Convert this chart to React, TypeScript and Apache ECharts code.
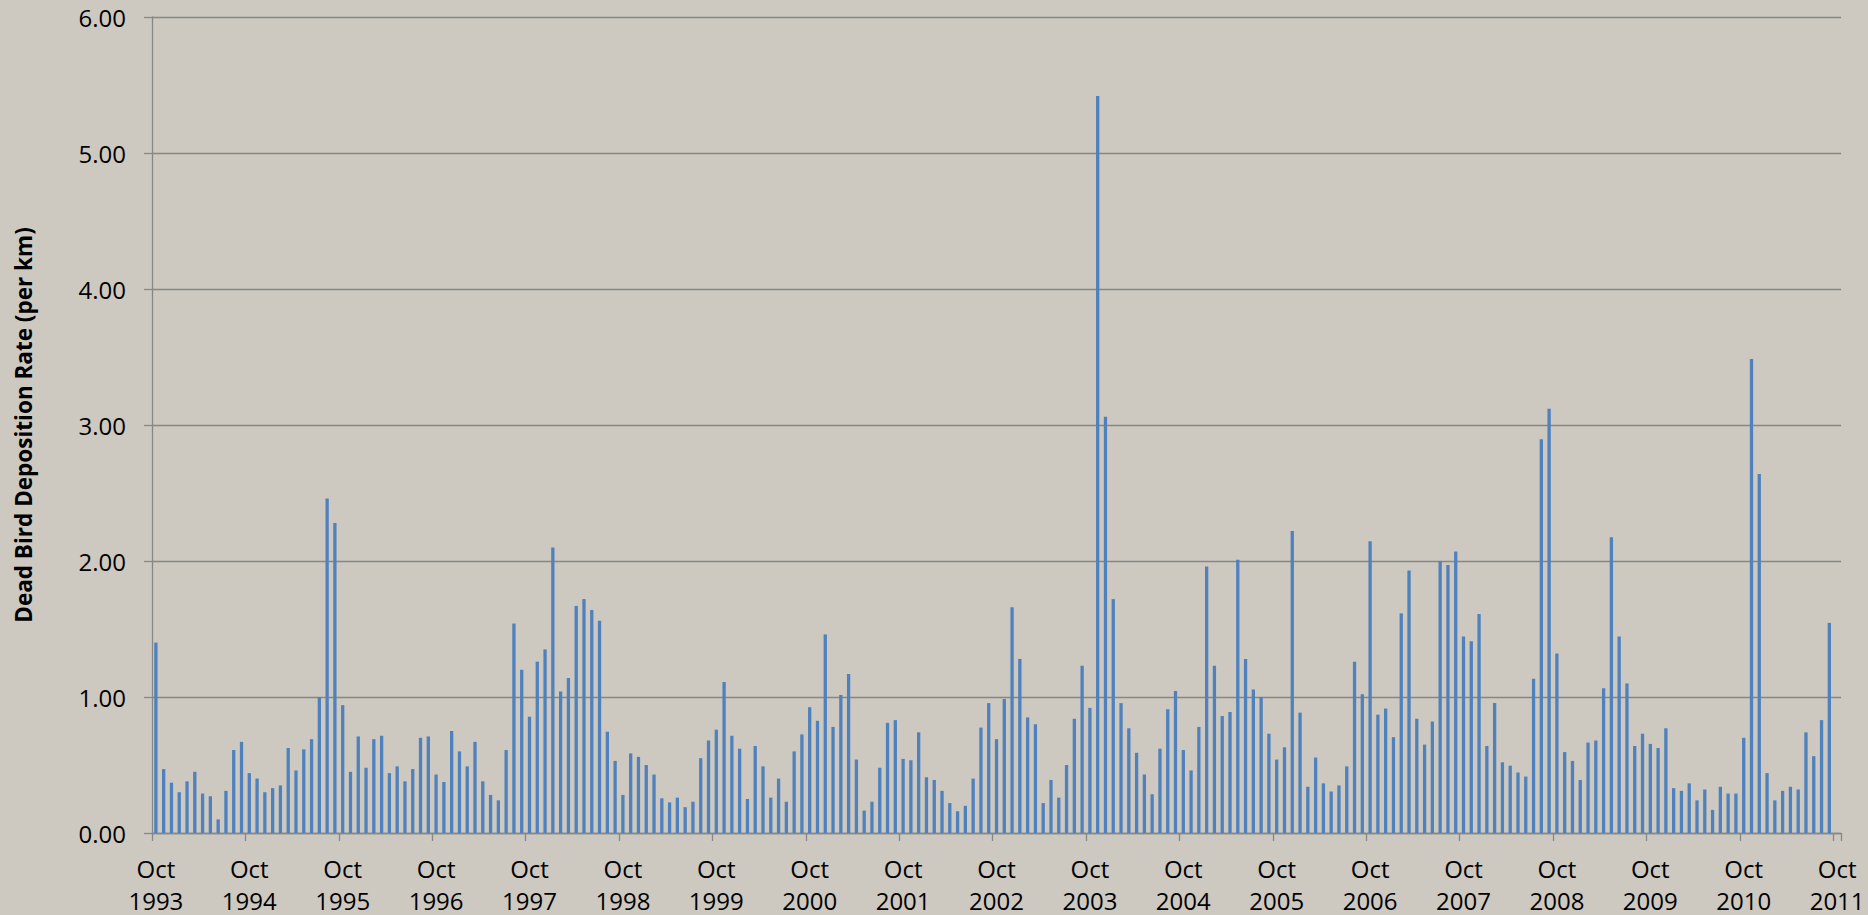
import React, { useEffect, useRef } from "react";
import * as echarts from "echarts";

// Monthly values, each row runs Oct (year) .. Sep (year+1)
const startYears = [1993, 1994, 1995, 1996, 1997, 1998, 1999, 2000, 2001, 2002, 2003, 2004, 2005, 2006, 2007, 2008, 2009, 2010];
const monthNames = ["Oct", "Nov", "Dec", "Jan", "Feb", "Mar", "Apr", "May", "Jun", "Jul", "Aug", "Sep"];

const y1993 = [1.40, 0.47, 0.37, 0.30, 0.38, 0.45, 0.29, 0.27, 0.10, 0.31, 0.61, 0.67];
const y1994 = [0.44, 0.40, 0.30, 0.33, 0.35, 0.625, 0.46, 0.615, 0.69, 1.00, 2.46, 2.28];
const y1995 = [0.94, 0.45, 0.71, 0.48, 0.69, 0.715, 0.44, 0.49, 0.38, 0.47, 0.70, 0.71];
const y1996 = [0.43, 0.375, 0.75, 0.60, 0.49, 0.67, 0.38, 0.28, 0.24, 0.61, 1.54, 1.20];
const y1997 = [0.855, 1.26, 1.35, 2.10, 1.04, 1.14, 1.67, 1.72, 1.64, 1.56, 0.745, 0.53];
const y1998 = [0.28, 0.585, 0.56, 0.50, 0.43, 0.255, 0.225, 0.26, 0.19, 0.23, 0.55, 0.68];
const y1999 = [0.76, 1.11, 0.715, 0.62, 0.25, 0.64, 0.49, 0.26, 0.40, 0.23, 0.60, 0.725];
const y2000 = [0.925, 0.825, 1.46, 0.78, 1.015, 1.17, 0.54, 0.165, 0.23, 0.48, 0.81, 0.83];
const y2001 = [0.545, 0.535, 0.74, 0.41, 0.39, 0.31, 0.22, 0.16, 0.20, 0.40, 0.775, 0.955];
const y2002 = [0.69, 0.985, 1.66, 1.28, 0.85, 0.80, 0.22, 0.39, 0.26, 0.50, 0.84, 1.23];
const y2003 = [0.92, 5.42, 3.06, 1.72, 0.955, 0.77, 0.59, 0.43, 0.285, 0.62, 0.91, 1.045];
const y2004 = [0.61, 0.46, 0.78, 1.96, 1.23, 0.86, 0.89, 2.01, 1.28, 1.055, 1.00, 0.73];
const y2005 = [0.54, 0.63, 2.22, 0.885, 0.34, 0.555, 0.365, 0.305, 0.35, 0.49, 1.26, 1.02];
const y2006 = [2.145, 0.87, 0.915, 0.705, 1.615, 1.93, 0.84, 0.65, 0.82, 2.00, 1.97, 2.07];
const y2007 = [1.445, 1.41, 1.61, 0.64, 0.955, 0.52, 0.495, 0.445, 0.415, 1.135, 2.895, 3.12];
const y2008 = [1.32, 0.595, 0.53, 0.39, 0.665, 0.68, 1.065, 2.175, 1.445, 1.10, 0.64, 0.73];
const y2009 = [0.655, 0.625, 0.77, 0.33, 0.31, 0.365, 0.24, 0.32, 0.17, 0.34, 0.29, 0.29];
const y2010 = [0.70, 3.485, 2.64, 0.44, 0.24, 0.31, 0.34, 0.32, 0.74, 0.565, 0.83, 1.545];

const yearRows = [y1993, y1994, y1995, y1996, y1997, y1998, y1999, y2000, y2001, y2002, y2003, y2004, y2005, y2006, y2007, y2008, y2009, y2010];

const yTicks = [0, 1, 2, 3, 4, 5, 6];

export default function App() {
  const ref = useRef<HTMLDivElement>(null);

  useEffect(() => {
    if (!ref.current) return;
    const chart = echarts.init(ref.current, null, { renderer: "svg" });

    const categories: string[] = [];
    const values: (number | null)[] = [];
    startYears.forEach((yr, r) => {
      monthNames.forEach((m, k) => {
        categories.push(`${m} ${k < 3 ? yr : yr + 1}`);
        values.push(yearRows[r][k]);
      });
    });
    categories.push("Oct 2011");
    values.push(null);

    const font = "'Open Sans', 'Liberation Sans', sans-serif";

    chart.setOption({
      animation: false,
      backgroundColor: "#CDC9C1",
      grid: { left: 152, right: 27, top: 17, bottom: 82, containLabel: false, outerBoundsMode: "none" },
      xAxis: {
        type: "category",
        data: categories,
        boundaryGap: true,
        axisLine: { lineStyle: { color: "#878787", width: 1.3 } },
        axisTick: { show: true, interval: 11, length: 8, lineStyle: { color: "#878787", width: 1.3 } },
        axisLabel: {
          interval: 11,
          margin: 19,
          color: "#000",
          fontFamily: font,
          fontSize: 24,
          lineHeight: 32,
          formatter: (v: string) => v.replace(" ", "\n"),
        },
        splitLine: { show: false },
      },
      yAxis: {
        type: "value",
        min: yTicks[0],
        max: yTicks[yTicks.length - 1],
        interval: 1,
        name: "Dead Bird Deposition Rate (per km)",
        nameLocation: "middle",
        nameGap: 117,
        nameTextStyle: { color: "#000", fontFamily: font, fontSize: 22.5, fontWeight: "bold" },
        axisLine: { show: true, lineStyle: { color: "#878787", width: 1.3 } },
        axisTick: { show: true, length: 8, lineStyle: { color: "#878787", width: 1.3 } },
        axisLabel: {
          margin: 26,
          color: "#000",
          fontFamily: font,
          fontSize: 24,
          formatter: (v: number) => v.toFixed(2),
        },
        splitLine: { show: true, lineStyle: { color: "#878787", width: 1.3 } },
      },
      series: [
        {
          type: "bar",
          data: values,
          barWidth: 3.3,
          itemStyle: { color: "#4F81BD" },
        },
      ],
    });

    return () => chart.dispose();
  }, []);

  return <div ref={ref} style={{ position: "fixed", left: 0, top: 0, width: 1868, height: 915 }} />;
}
